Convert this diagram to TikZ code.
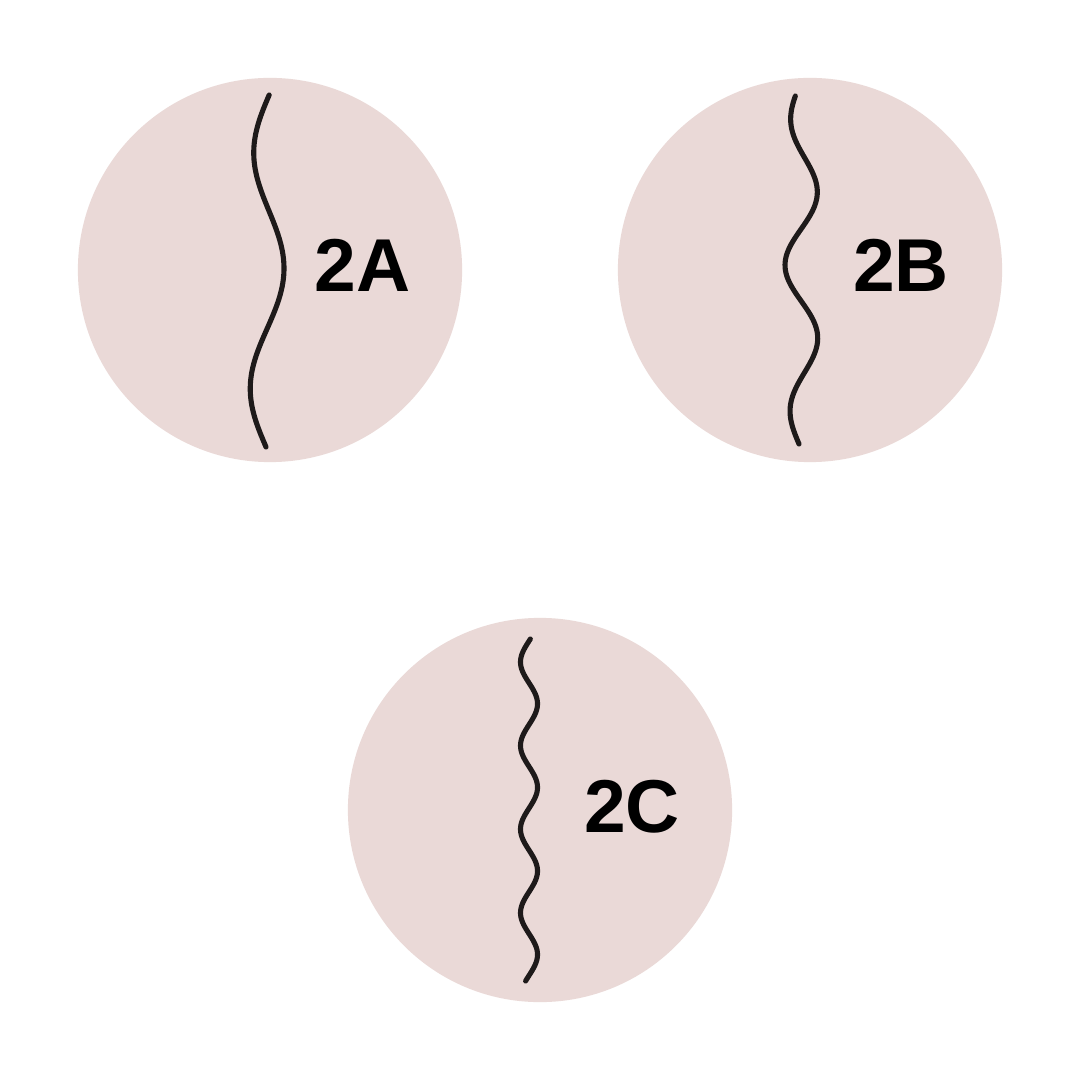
\documentclass[tikz,border=0pt]{standalone}
\usepackage{fontspec}
\setmainfont{Liberation Sans}
\definecolor{discpink}{RGB}{234,217,215}
\definecolor{waveink}{RGB}{30,26,26}
\tikzset{
  disc/.style={circle,fill=discpink,draw=none,minimum size=3.84cm,inner sep=0pt},
  wave/.style={draw=waveink,line width=1.45pt,line cap=round,smooth},
  tag/.style={inner sep=0pt,font=\bfseries\fontsize{21.3}{24}\selectfont}
}
\begin{document}
\begin{tikzpicture}[x=0.01cm,y=-0.01cm]
  \useasboundingbox[fill=white] (0,0) rectangle (1080,1080);
  % Discs
  \node[disc] (discA) at (270,270) {};
  \node[disc] (discB) at (810,270) {};
  \node[disc] (discC) at (540,810) {};
  % Waves
  \draw[wave] plot[domain=95:447,samples=120,variable=\t]
    ({268-16*cos((\t-152)*1.52542)+2*cos((\t-95)*0.51724)},\t);
  \draw[wave] plot[domain=96:444,samples=160,variable=\t]
    ({802-(10+7*sin((\t-96)*0.51724))*cos((\t-116)*2.41611)},\t);
  \draw[wave] plot[domain=639:981,samples=200,variable=\t]
    ({529-8.5*cos((\t-662)*4.30622)},\t);
  % Labels
  \node[tag] (tagA) at (362.5,265) {2A};
  \node[tag] (tagB) at (901,265) {2B};
  \node[tag] (tagC) at (632,807) {2C};
\end{tikzpicture}
\end{document}
